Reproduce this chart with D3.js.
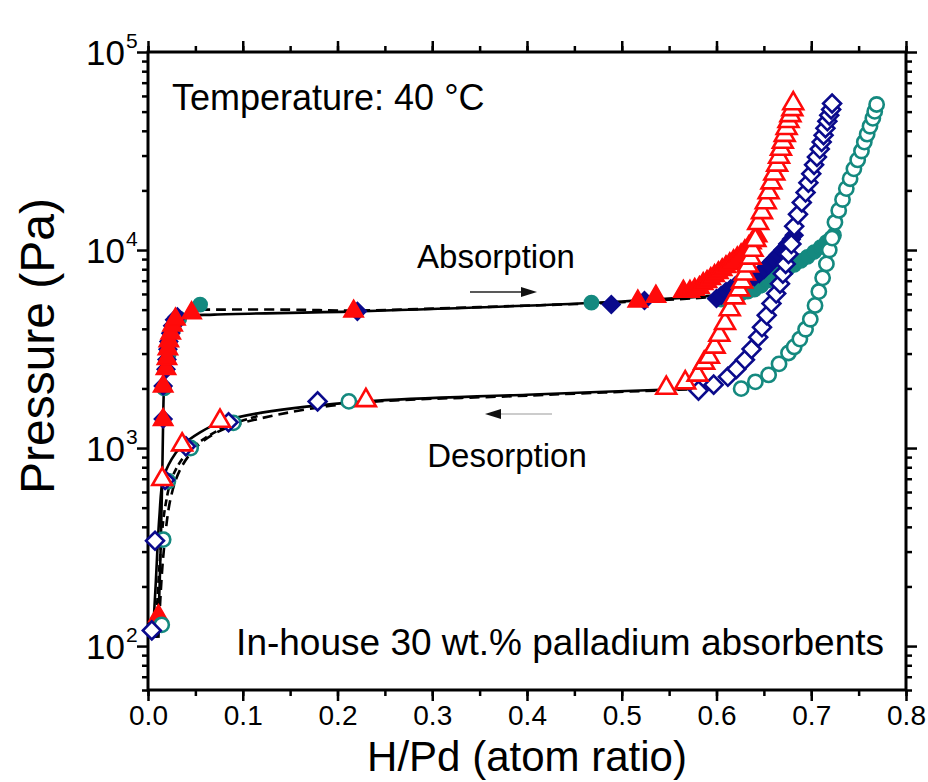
<!DOCTYPE html>
<html lang="en">
<head>
<meta charset="UTF-8">
<title>Pd hydrogen isotherms</title>
<script src="https://cdn.jsdelivr.net/npm/d3@7"></script>
<style>
  body { margin: 0; background: #fff; }
  #chart text { font-family: "Liberation Sans", Arial, sans-serif; fill: #000; }
  .axis path { display: none; }
  .axis line { stroke: #000; stroke-width: 2.5; }
</style>
</head>
<body>
<div id="chart"></div>
<script>
// ---- data (x = H/Pd atom ratio, y = pressure in Pa) ----
// red triangles
var redAbsX = [0.011, 0.016, 0.016, 0.019, 0.020, 0.021, 0.022, 0.024, 0.026, 0.029, 0.046, 0.217, 0.517, 0.536, 0.565,
  0.572, 0.577, 0.582, 0.586, 0.590, 0.594, 0.598, 0.602, 0.606, 0.610, 0.614, 0.618, 0.622, 0.626, 0.630, 0.634, 0.637, 0.640, 0.643];
var redAbsP = [142, 1390, 2050, 2510, 2820, 3160, 3470, 3800, 4170, 4470, 4810, 4900, 5510, 5830, 6180,
  6170, 6310, 6460, 6760, 6920, 7160, 7410, 7670, 7940, 8220, 8510, 8810, 9120, 9440, 9890, 10350, 10840, 11350, 11750];
var redDesX = [0.015, 0.036, 0.076, 0.230, 0.547, 0.567, 0.580, 0.587, 0.592, 0.598, 0.603, 0.609, 0.614, 0.619,
  0.624, 0.627, 0.630, 0.633, 0.636, 0.638, 0.641, 0.644, 0.648, 0.652, 0.655, 0.658, 0.661, 0.664, 0.666, 0.668,
  0.670, 0.672, 0.674, 0.676, 0.678, 0.680, 0.681];
var redDesP = [695, 1040, 1370, 1740, 2010, 2140, 2340, 2690, 2880, 3240, 3720, 4270, 5010, 5750,
  6310, 6920, 7590, 8320, 9120, 10000, 11220, 13650, 15490, 17380, 19500, 21880, 24270, 26920, 29510, 32360,
  35080, 38020, 41210, 44670, 47860, 51290, 54950];

// navy diamonds
var blueAbsX = [0.016, 0.016, 0.019, 0.020, 0.021, 0.022, 0.024, 0.026, 0.028, 0.031, 0.221, 0.489, 0.524,
  0.600, 0.605, 0.610, 0.615, 0.620, 0.625, 0.630, 0.635, 0.640, 0.645, 0.650, 0.655, 0.660, 0.665, 0.670, 0.675, 0.679, 0.682];
var blueAbsP = [1400, 2060, 2500, 2800, 3150, 3450, 3800, 4150, 4450, 4600, 4900, 5310, 5560,
  5690, 5890, 6170, 6380, 6610, 6840, 7000, 7160, 7330, 7590, 7940, 8410, 8910, 9440, 10000, 10720, 11350, 11890];
var blueDesX = [0.004, 0.0074, 0.018, 0.040, 0.085, 0.179, 0.581, 0.597, 0.612, 0.621, 0.630, 0.637, 0.644, 0.648,
  0.653, 0.658, 0.663, 0.667, 0.670, 0.673, 0.676, 0.679, 0.682, 0.686, 0.690, 0.694, 0.697, 0.700, 0.703, 0.706,
  0.709, 0.711, 0.713, 0.715, 0.717, 0.719, 0.721, 0.722];
var blueDesP = [120, 340, 690, 1020, 1350, 1720, 1950, 2090, 2290, 2510, 2790, 3160, 3630, 4070,
  4680, 5370, 6030, 6760, 7590, 8510, 9550, 10720, 13180, 15140, 17380, 19500, 21880, 24270, 26920, 29510,
  32360, 35080, 38020, 41210, 44670, 47860, 51290, 54950];

// teal circles
var tealAbsX = [0.017, 0.022, 0.027, 0.033, 0.055, 0.468, 0.605, 0.612, 0.619, 0.626, 0.633, 0.640, 0.647, 0.654,
  0.661, 0.668, 0.675, 0.682, 0.689, 0.696, 0.703, 0.710, 0.716, 0.721, 0.724];
var tealAbsP = [2000, 3000, 4000, 4500, 5300, 5420, 5620, 5750, 5890, 6030, 6170, 6310, 6610, 7000,
  7330, 7670, 8040, 8410, 8810, 9230, 9770, 10350, 10960, 11480, 11890];
var tealDesX = [0.0145, 0.016, 0.021, 0.045, 0.090, 0.212, 0.626, 0.641, 0.655, 0.666, 0.676, 0.682, 0.688, 0.694,
  0.699, 0.704, 0.708, 0.712, 0.716, 0.719, 0.722, 0.725, 0.729, 0.733, 0.737, 0.741, 0.745, 0.749, 0.753, 0.756,
  0.759, 0.762, 0.765, 0.767, 0.769];
var tealDesP = [128, 345, 680, 1000, 1340, 1720, 1995, 2160, 2340, 2660, 3020, 3240, 3550, 3980,
  4470, 5250, 6170, 7240, 8510, 10000, 11480, 13800, 15850, 17990, 20420, 22910, 25700, 28510, 31620, 35080,
  38460, 42170, 46240, 50120, 54330];

// fitted black lines
var absSolidX = [0.009, 0.011, 0.015, 0.016, 0.017, 0.020, 0.024, 0.030, 0.040, 0.070, 0.220, 0.500, 0.600];
var absSolidP = [110, 142, 700, 1400, 2050, 2800, 3700, 4400, 4620, 4720, 4900, 5500, 5900];
var absDashX = [0.055, 0.150, 0.220, 0.350, 0.500, 0.600];
var absDashP = [5000, 5000, 4950, 5150, 5450, 5800];
var desSolidX = [0.005, 0.008, 0.012, 0.016, 0.025, 0.036, 0.055, 0.078, 0.120, 0.230, 0.400, 0.580];
var desSolidP = [110, 200, 450, 700, 880, 1030, 1200, 1360, 1510, 1720, 1860, 2000];
var desDash1X = [0.008, 0.012, 0.018, 0.026, 0.040, 0.060, 0.085, 0.120];
var desDash1P = [110, 250, 500, 720, 930, 1120, 1300, 1470];
var desDash2X = [0.011, 0.016, 0.024, 0.034, 0.050, 0.070, 0.095, 0.200, 0.400, 0.600];
var desDash2P = [110, 280, 560, 780, 1000, 1180, 1320, 1650, 1840, 2000];

var xTicks = [0, 0.1, 0.2, 0.3, 0.4, 0.5, 0.6, 0.7, 0.8];
var yTicks = [100, 1000, 10000, 100000];
var yExp = ["2", "3", "4", "5"];

// ---- layout ----
var W = 928, H = 782;
var mLeft = 148, mRight = 906, mTop = 52, mBottom = 690;

var svg = d3.select("#chart").append("svg").attr("width", W).attr("height", H);

var x = d3.scaleLinear().domain([0, 0.8]).range([mLeft, mRight]);
var y = d3.scaleLog().domain([60, 100000]).range([mBottom, mTop]);

function zip(xs, ps) { return xs.map(function(v, i) { return [v, ps[i]]; }); }

// minor ticks
var xMinor = d3.range(0, 0.801, 0.05);
var yMinor = [];
[10, 100, 1000, 10000].forEach(function(d) {
  for (var k = 2; k <= 9; k++) { if (d * k >= 60 && d * k < 100000) yMinor.push(d * k); }
});

function axes(gen, pos, vals, size, labels) {
  var g = svg.append("g").attr("class", "axis").attr("transform", pos)
    .call(gen.tickValues(vals).tickSize(size).tickSizeOuter(0).tickFormat(labels ? d3.format(".1f") : ""));
  return g;
}
axes(d3.axisBottom(x), "translate(0," + mBottom + ")", xMinor, 6, false);
axes(d3.axisTop(x), "translate(0," + mTop + ")", xMinor, 6, false);
axes(d3.axisLeft(y), "translate(" + mLeft + ",0)", yMinor, 6, false);
axes(d3.axisRight(y), "translate(" + mRight + ",0)", yMinor, 6, false);

var gx = axes(d3.axisBottom(x), "translate(0," + mBottom + ")", xTicks, 11, true);
gx.selectAll("text").attr("font-size", 28).attr("y", 15);
axes(d3.axisTop(x), "translate(0," + mTop + ")", xTicks, 11, false);
axes(d3.axisRight(y), "translate(" + mRight + ",0)", yTicks, 11, false);
axes(d3.axisLeft(y), "translate(" + mLeft + ",0)", yTicks, 11, false);

// y tick labels 10^n
var yl = svg.append("g");
yTicks.forEach(function(d, i) {
  yl.append("text").attr("x", 125).attr("y", y(d) + 13).attr("text-anchor", "end")
    .attr("font-size", 35).text("10");
  yl.append("text").attr("x", 126).attr("y", y(d) - 4).attr("font-size", 21).text(yExp[i]);
});

// frame
svg.append("rect").attr("x", mLeft).attr("y", mTop)
  .attr("width", mRight - mLeft).attr("height", mBottom - mTop)
  .attr("fill", "none").attr("stroke", "#000").attr("stroke-width", 3);

// fitted lines
var line = d3.line().x(function(d) { return x(d[0]); }).y(function(d) { return y(d[1]); })
  .curve(d3.curveCatmullRom.alpha(0.5));
var fits = [
  { d: zip(absSolidX, absSolidP), dash: null },
  { d: zip(absDashX, absDashP), dash: "10,6" },
  { d: zip(desSolidX, desSolidP), dash: null },
  { d: zip(desDash1X, desDash1P), dash: "7,4" },
  { d: zip(desDash2X, desDash2P), dash: "10,6" }
];
fits.forEach(function(f) {
  svg.append("path").attr("d", line(f.d)).attr("fill", "none")
    .attr("stroke", "#000").attr("stroke-width", 2.6)
    .attr("stroke-dasharray", f.dash);
});

// markers
var teal = "#14897f", navy = "#0a0a8c", red = "#ff0a0a";
var tri = d3.symbol().type(d3.symbolTriangle).size(170);
var dia = d3.symbol().type(d3.symbolSquare).size(160);
var cir = d3.symbol().type(d3.symbolCircle).size(160);

var series = [
  { d: zip(tealAbsX, tealAbsP), c: teal, sym: cir, rot: 0, open: false },
  { d: zip(blueAbsX, blueAbsP), c: navy, sym: dia, rot: 45, open: false },
  { d: zip(redAbsX, redAbsP), c: red, sym: tri, rot: 0, open: false },
  { d: zip(tealDesX, tealDesP), c: teal, sym: cir, rot: 0, open: true },
  { d: zip(blueDesX, blueDesP), c: navy, sym: dia, rot: 45, open: true },
  { d: zip(redDesX, redDesP), c: red, sym: tri, rot: 0, open: true }
];
series.forEach(function(s) {
  svg.append("g").selectAll("path").data(s.d).enter().append("path")
    .attr("d", s.sym)
    .attr("transform", function(d) {
      return "translate(" + x(d[0]) + "," + y(d[1]) + ") rotate(" + s.rot + ")";
    })
    .attr("fill", s.open ? "#fff" : s.c)
    .attr("stroke", s.c)
    .attr("stroke-width", s.open ? 2.6 : 1.5);
});

// annotations
svg.append("text").attr("x", 172).attr("y", 110).attr("font-size", 36).text("Temperature: 40 \u00b0C");
svg.append("text").attr("x", 884).attr("y", 655).attr("text-anchor", "end").attr("font-size", 37)
  .text("In-house 30 wt.% palladium absorbents");
svg.append("text").attr("x", 496).attr("y", 268).attr("text-anchor", "middle").attr("font-size", 33).text("Absorption");
svg.append("text").attr("x", 507).attr("y", 467).attr("text-anchor", "middle").attr("font-size", 33).text("Desorption");

// arrows
svg.append("line").attr("x1", 470).attr("x2", 525).attr("y1", 292).attr("y2", 292)
  .attr("stroke", "#222").attr("stroke-width", 1.5);
svg.append("path").attr("d", "M537,292 L521,287 L521,297 Z").attr("fill", "#111");
svg.append("line").attr("x1", 497).attr("x2", 552).attr("y1", 414).attr("y2", 414)
  .attr("stroke", "#bbb").attr("stroke-width", 1.5);
svg.append("path").attr("d", "M485,414 L501,409 L501,419 Z").attr("fill", "#111");

// axis titles
svg.append("text").attr("x", 527).attr("y", 771).attr("text-anchor", "middle").attr("font-size", 42)
  .text("H/Pd (atom ratio)");
svg.append("text").attr("transform", "translate(54,346) rotate(-90)").attr("text-anchor", "middle")
  .attr("font-size", 48).text("Pressure (Pa)");
</script>
</body>
</html>
